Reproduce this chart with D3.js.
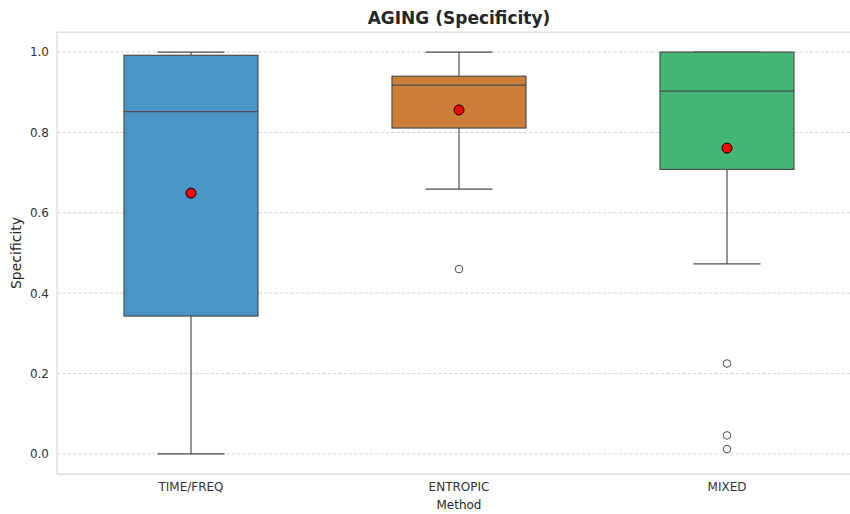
<!DOCTYPE html>
<html>
<head>
<meta charset="utf-8">
<script src="https://cdn.jsdelivr.net/npm/d3@7"></script>
<style>
  html, body { margin: 0; padding: 0; background: #fff; }
  svg { display: block; font-family: "DejaVu Sans", sans-serif; }
</style>
</head>
<body>
<svg id="chart" width="850" height="514"></svg>
<script>
// Box summary statistics per method
const methods   = ["TIME/FREQ", "ENTROPIC", "MIXED"];
const whiskLow  = [0.0, 0.659, 0.473];
const q1        = [0.343, 0.811, 0.708];
const medians   = [0.852, 0.918, 0.903];
const q3        = [0.992, 0.940, 1.0];
const whiskHigh = [1.0, 1.0, 1.0];
const means     = [0.649, 0.856, 0.761];
const outliers  = [[], [0.460], [0.225, 0.046, 0.012]];
const colors    = ["#4a94c7", "#cd7f3a", "#43b775"];
const yTicks    = [0.0, 0.2, 0.4, 0.6, 0.8, 1.0];

const svg = d3.select("#chart");
const margin = { left: 57, top: 32, right: -11, bottom: 40 };
const W = 850, H = 514;
const x0 = margin.left, x1 = W - margin.right;
const y0 = H - margin.bottom, y1 = margin.top;

const x = d3.scaleBand().domain(methods).range([x0, x1]).paddingInner(0).paddingOuter(0);
const y = d3.scaleLinear().domain([-0.05, 1.05]).range([y0, y1]);

svg.append("defs").append("clipPath").attr("id", "plotclip")
  .append("rect").attr("x", x0).attr("y", y1).attr("width", x1 - x0).attr("height", y0 - y1);

// Grid lines
svg.append("g").selectAll("line").data(yTicks).join("line")
  .attr("x1", x0).attr("x2", x1)
  .attr("y1", d => y(d)).attr("y2", d => y(d))
  .attr("stroke", "#d2d2d2").attr("stroke-width", 0.9)
  .attr("stroke-dasharray", "3.5,1.8");

// Frame
const frame = "#d9d9d9";
svg.append("line").attr("x1", x0).attr("x2", x1).attr("y1", y1).attr("y2", y1)
  .attr("stroke", frame).attr("stroke-width", 1.25);
svg.append("line").attr("x1", x0).attr("x2", x1).attr("y1", y0).attr("y2", y0)
  .attr("stroke", frame).attr("stroke-width", 1.25);
svg.append("line").attr("x1", x0).attr("x2", x0).attr("y1", y1).attr("y2", y0)
  .attr("stroke", frame).attr("stroke-width", 1.25);

// Y axis
const yAxis = d3.axisLeft(y).tickValues(yTicks).tickFormat(d3.format(".1f")).tickSize(0).tickPadding(8);
const yg = svg.append("g").attr("transform", `translate(${x0},0)`).call(yAxis);
yg.select(".domain").remove();
yg.selectAll("text").attr("font-size", 12).attr("fill", "#333").attr("font-family", "DejaVu Sans, sans-serif");

// X axis
const xAxis = d3.axisBottom(x).tickSize(0).tickPadding(8);
const xg = svg.append("g").attr("transform", `translate(0,${y0})`).call(xAxis);
xg.select(".domain").remove();
xg.selectAll("text").attr("font-size", 12).attr("fill", "#333").attr("font-family", "DejaVu Sans, sans-serif");

// Boxes
const edge = "#4d4d4d";
const bw = x.bandwidth() * 0.5;
const cw = x.bandwidth() * 0.25;
const plot = svg.append("g").attr("clip-path", "url(#plotclip)");

methods.forEach((m, i) => {
  const cx = x(m) + x.bandwidth() / 2;
  const g = plot.append("g");
  // whiskers
  g.append("line").attr("x1", cx).attr("x2", cx).attr("y1", y(q3[i])).attr("y2", y(whiskHigh[i]))
    .attr("stroke", edge).attr("stroke-width", 1.2);
  g.append("line").attr("x1", cx).attr("x2", cx).attr("y1", y(q1[i])).attr("y2", y(whiskLow[i]))
    .attr("stroke", edge).attr("stroke-width", 1.2);
  // caps
  [whiskLow[i], whiskHigh[i]].forEach(v => {
    g.append("line").attr("x1", cx - cw / 2).attr("x2", cx + cw / 2).attr("y1", y(v)).attr("y2", y(v))
      .attr("stroke", edge).attr("stroke-width", 1.2);
  });
  // box
  g.append("rect").attr("x", cx - bw / 2).attr("width", bw)
    .attr("y", y(q3[i])).attr("height", y(q1[i]) - y(q3[i]))
    .attr("fill", colors[i]).attr("stroke", edge).attr("stroke-width", 1.2);
  // median
  g.append("line").attr("x1", cx - bw / 2).attr("x2", cx + bw / 2)
    .attr("y1", y(medians[i])).attr("y2", y(medians[i]))
    .attr("stroke", edge).attr("stroke-width", 1.2);
  // outliers
  g.selectAll("circle.out").data(outliers[i]).join("circle").attr("class", "out")
    .attr("cx", cx).attr("cy", d => y(d)).attr("r", 3.8)
    .attr("fill", "none").attr("stroke", edge).attr("stroke-width", 1);
  // mean
  g.append("circle").attr("cx", cx).attr("cy", y(means[i])).attr("r", 5)
    .attr("fill", "#ff0000").attr("stroke", "#000").attr("stroke-width", 1);
});

// Labels
svg.append("text").attr("x", (x0 + x1) / 2).attr("y", 24).attr("text-anchor", "middle")
  .attr("font-size", 17).attr("font-weight", "bold").attr("fill", "#262626")
  .text("AGING (Specificity)");
svg.append("text").attr("transform", `translate(21,${(y0 + y1) / 2}) rotate(-90)`)
  .attr("text-anchor", "middle").attr("font-size", 14).attr("fill", "#262626")
  .text("Specificity");
svg.append("text").attr("x", (x0 + x1) / 2).attr("y", 509).attr("text-anchor", "middle")
  .attr("font-size", 12).attr("fill", "#262626").text("Method");
</script>
</body>
</html>
